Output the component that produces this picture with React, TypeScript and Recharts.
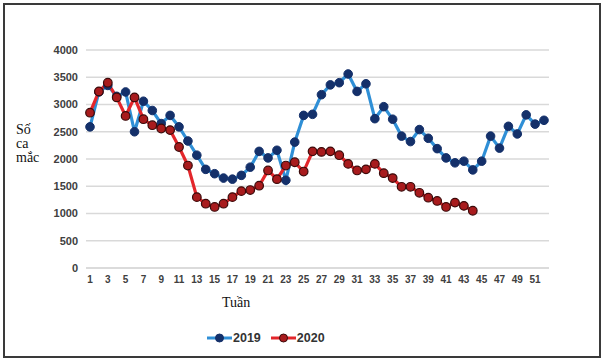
import React from 'react'
import { CartesianGrid, Line, LineChart, XAxis, YAxis } from 'recharts'

const weeks = Array.from({ length: 52 }, (_, i) => String(i + 1))

const cases2019 = [
  2590, 3230, 3350, 3150, 3230, 2500, 3060, 2890, 2650, 2800,
  2590, 2330, 2070, 1810, 1730, 1650, 1630, 1700, 1850, 2140,
  2020, 2160, 1610, 2310, 2800, 2820, 3180, 3360, 3400, 3560,
  3240, 3380, 2740, 2960, 2730, 2420, 2320, 2540, 2380, 2190,
  2020, 1930, 1960, 1800, 1960, 2420, 2200, 2600, 2460, 2810,
  2640, 2710,
]

const cases2020 = [
  2850, 3240, 3400, 3130, 2790, 3130, 2730, 2620, 2560, 2530,
  2220, 1880, 1300, 1180, 1120, 1180, 1300, 1410, 1430, 1510,
  1790, 1630, 1880, 1940, 1770, 2140, 2130, 2140, 2070, 1910,
  1790, 1810, 1910, 1740, 1650, 1490, 1490, 1380, 1290, 1230,
  1120, 1200, 1140, 1050,
]

const yTicks = [0, 500, 1000, 1500, 2000, 2500, 3000, 3500, 4000]

const data = weeks.map((w, i) => ({
  week: w,
  y2019: cases2019[i],
  y2020: cases2020[i],
}))

const BLUE_LINE = '#2f8fd6'
const BLUE_DOT = '#14306a'
const RED_LINE = '#e3262b'
const RED_DOT = '#a81b1d'
const RED_DOT_STROKE = '#3b0a0a'

const tickStyle = { fontSize: 11, fontWeight: 700, fill: '#404040', fontFamily: 'Liberation Sans, Arial, sans-serif' }

const LegendItem = ({ line, dot, stroke, label }: { line: string; dot: string; stroke: string; label: string }) => (
  <div style={{ display: 'flex', alignItems: 'center', marginRight: 10 }}>
    <svg width={25} height={12}>
      <line x1={0} y1={6} x2={25} y2={6} stroke={line} strokeWidth={3} />
      <circle cx={12.5} cy={6} r={4} fill={dot} stroke={stroke} strokeWidth={1} />
    </svg>
    <span style={{ fontSize: 12.5, fontWeight: 700, color: '#333', marginLeft: 1 }}>{label}</span>
  </div>
)

const App = () => {
  return (
    <div style={{ position: 'absolute', left: 0, top: 0, width: 604, height: 362, background: '#fff', fontFamily: 'Liberation Sans, Arial, sans-serif' }}>
      <div style={{ position: 'absolute', left: 3, top: 3, width: 594, height: 351, border: '2px solid #3a3a3a' }} />
      <LineChart
        width={604}
        height={362}
        data={data}
        margin={{ top: 50, right: 55, left: 36, bottom: 64 }}
      >
        <CartesianGrid vertical={false} stroke="#d9d9d9" strokeWidth={1.5} />
        <XAxis
          dataKey="week"
          interval={1}
          tickLine={false}
          axisLine={{ stroke: '#d9d9d9', strokeWidth: 1.5 }}
          tick={{ ...tickStyle, fontSize: 10 }}
          padding={{ left: 4, right: 5 }}
          height={30}
        />
        <YAxis
          width={50}
          domain={[0, 4000]}
          ticks={yTicks}
          tickLine={false}
          axisLine={false}
          tick={tickStyle}
        />
        <Line
          dataKey="y2019"
          stroke={BLUE_LINE}
          strokeWidth={3.2}
          dot={{ r: 4.3, fill: BLUE_DOT, stroke: BLUE_DOT, strokeWidth: 1 }}
          isAnimationActive={false}
        />
        <Line
          dataKey="y2020"
          stroke={RED_LINE}
          strokeWidth={3.2}
          dot={{ r: 4.3, fill: RED_DOT, stroke: RED_DOT_STROKE, strokeWidth: 1.2 }}
          isAnimationActive={false}
        />
      </LineChart>
      <div style={{ position: 'absolute', left: 16, top: 123, fontFamily: 'Liberation Serif, Times New Roman, serif', fontSize: 14, lineHeight: '14px', color: '#111' }}>
        Số<br />ca<br />mắc
      </div>
      <div style={{ position: 'absolute', left: 222, top: 295, fontFamily: 'Liberation Serif, Times New Roman, serif', fontSize: 14, color: '#111' }}>
        Tuần
      </div>
      <div style={{ position: 'absolute', left: 207, top: 331, display: 'flex' }}>
        <LegendItem line={BLUE_LINE} dot={BLUE_DOT} stroke={BLUE_DOT} label="2019" />
        <LegendItem line={RED_LINE} dot={RED_DOT} stroke={RED_DOT_STROKE} label="2020" />
      </div>
    </div>
  )
}

export default App
